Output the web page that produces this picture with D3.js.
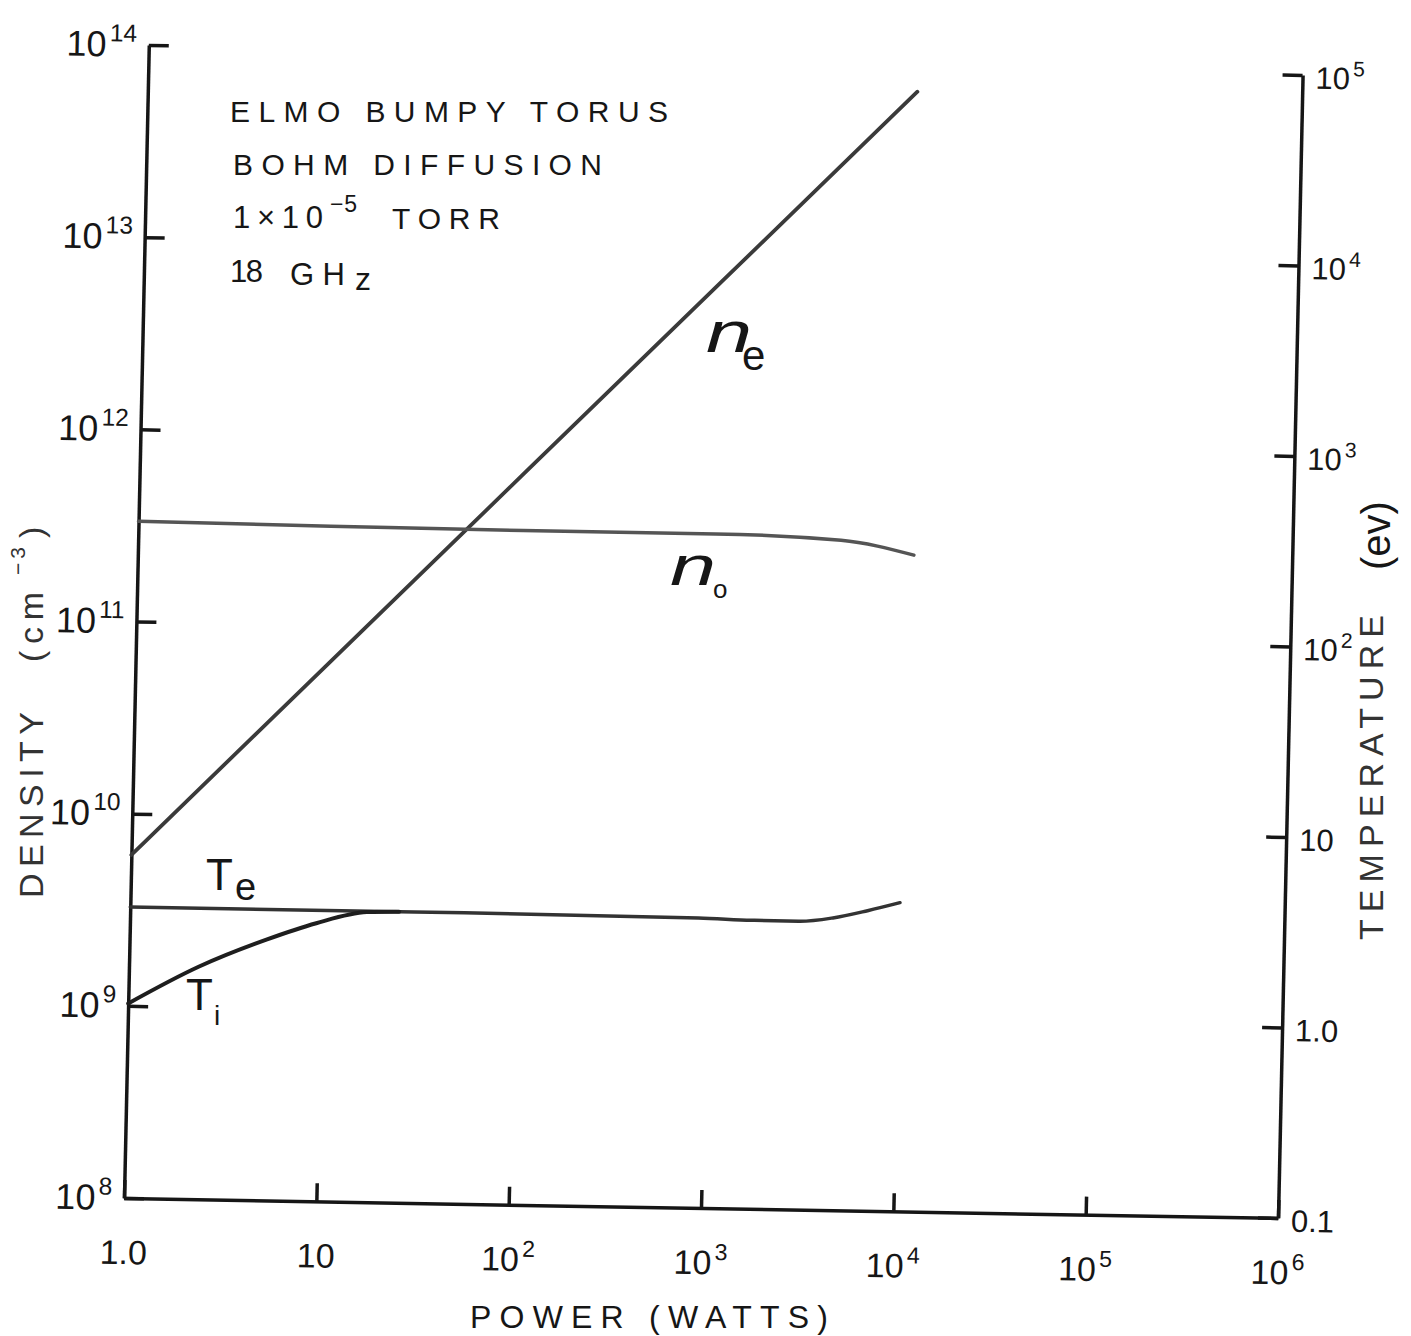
<!DOCTYPE html>
<html>
<head>
<meta charset="utf-8">
<script src="https://cdn.jsdelivr.net/npm/d3@7"></script>
<style>
  body { margin: 0; background: #fff; }
  svg { display: block; background: #fff; }
  text { font-family: "Liberation Sans", "DejaVu Sans", sans-serif; fill: #161616; }
</style>
</head>
<body>
<svg width="1411" height="1336"></svg>
<script>
// ---- tick values / labels ----
var powerTicks = [1, 10, 100, 1e3, 1e4, 1e5, 1e6];
var powerBase  = ["1.0", "10", "10", "10", "10", "10", "10"];
var powerExp   = ["", "", "2", "3", "4", "5", "6"];

var densityTicks = [1e8, 1e9, 1e10, 1e11, 1e12, 1e13, 1e14];
var densityExp   = ["8", "9", "10", "11", "12", "13", "14"];

var tempTicks = [0.1, 1, 10, 100, 1e3, 1e4, 1e5];
var tempBase  = ["0.1", "1.0", "10", "10", "10", "10", "10"];
var tempExp   = ["", "", "", "2", "3", "4", "5"];

// ---- curves ----
var nePower   = [1, 10, 100, 1000, 10000];
var neDensity = [6.1e9, 6.25e10, 6.4e11, 6.55e12, 6.7e13];

var n0Power   = [1, 10, 100, 1000, 4500, 10800];
var n0Density = [3.32e11, 3.26e11, 3.22e11, 3.22e11, 3.06e11, 2.6e11];

var tePower = [1, 30, 900, 1700, 3000, 4500, 6800, 10000];
var teTemp  = [3.37, 3.37, 3.32, 3.27, 3.26, 3.42, 3.76, 4.17];

var tiPower = [1, 2.3, 5.1, 9.3, 17, 25];
var tiTemp  = [1.05, 1.66, 2.33, 2.88, 3.33, 3.37];

var svg = d3.select("svg");

var W = 1154, H = 1153;
var x  = d3.scaleLog().domain([1, 1e6]).range([0, W]);
var yD = d3.scaleLog().domain([1e8, 1e14]).range([H, 0]);
var yT = d3.scaleLog().domain([0.1, 1e5]).range([H, 10]);

// the hand drawn frame leans a little, so the plot sits in a sheared group
var g = svg.append("g").attr("transform", "matrix(1,0.0173,-0.0215,1,148.8,45)");

function styleAxis(sel, size) {
    sel.attr("font-family", null).attr("font-size", null);
    sel.select(".domain").attr("stroke", "#161616").attr("stroke-width", 3.5);
    sel.selectAll(".tick line").attr("stroke", "#161616").attr("stroke-width", 3.5);
    sel.selectAll(".tick text").attr("font-size", size).attr("fill", "#161616");
}

function supText(sel, bases, exps) {
    sel.selectAll(".tick text").each(function (d, i) {
        var t = d3.select(this).text(null);
        t.append("tspan").text(bases[i]);
        if (exps[i]) {
            t.append("tspan").attr("dy", "-0.62em").attr("dx", "3").attr("font-size", "0.68em").text(exps[i]);
        }
    });
}

var leftAxis = g.append("g")
    .call(d3.axisLeft(yD).tickValues(densityTicks).tickSizeInner(-20).tickSizeOuter(0)
        .tickPadding(12).tickFormat(function () { return ""; }));
styleAxis(leftAxis, 36);
supText(leftAxis, densityTicks.map(function () { return "10"; }), densityExp);

var bottomAxis = g.append("g")
    .attr("transform", "translate(0," + H + ")")
    .call(d3.axisBottom(x).tickValues(powerTicks).tickSizeInner(-18).tickSizeOuter(0)
        .tickPadding(42).tickFormat(function () { return ""; }));
styleAxis(bottomAxis, 34);
supText(bottomAxis, powerBase, powerExp);

var rightAxis = g.append("g")
    .attr("transform", "translate(" + W + ",0)")
    .call(d3.axisRight(yT).tickValues(tempTicks).tickSizeInner(-20).tickSizeOuter(0)
        .tickPadding(13).tickFormat(function () { return ""; }));
styleAxis(rightAxis, 31);
supText(rightAxis, tempBase, tempExp);
rightAxis.selectAll(".tick text").attr("dy", "0.42em");

// ---- curves ----
var lineD = d3.line().x(function (d) { return x(d[0]); }).y(function (d) { return yD(d[1]); })
    .curve(d3.curveMonotoneX);
var lineT = d3.line().x(function (d) { return x(d[0]); }).y(function (d) { return yT(d[1]); })
    .curve(d3.curveMonotoneX);

var curves = [
    { pts: d3.zip(nePower, neDensity), gen: lineD, color: "#3a3a3a", w: 3.8 },
    { pts: d3.zip(n0Power, n0Density), gen: lineD, color: "#555", w: 3.5 },
    { pts: d3.zip(tePower, teTemp),    gen: lineT, color: "#333", w: 3.5 },
    { pts: d3.zip(tiPower, tiTemp),    gen: lineT, color: "#1e1e1e", w: 4 }
];

g.append("g").selectAll("path")
    .data(curves).enter()
    .append("path")
        .attr("d", function (d) { return d.gen(d.pts); })
        .attr("fill", "none")
        .attr("stroke", function (d) { return d.color; })
        .attr("stroke-width", function (d) { return d.w; })
        .attr("stroke-linecap", "round")
        .attr("stroke-linejoin", "round");

// ---- lettering ----
function label(px, py, str, size, opts) {
    opts = opts || {};
    var t = svg.append("text")
        .attr("x", px).attr("y", py)
        .attr("font-size", size)
        .text(str);
    if (opts.len) t.attr("textLength", opts.len).attr("lengthAdjust", opts.adjust || "spacing");
    if (opts.style) t.attr("font-style", opts.style);
    if (opts.fill) t.style("fill", opts.fill);
    if (opts.rot) t.attr("x", null).attr("y", null)
        .attr("transform", "translate(" + px + "," + py + ") rotate(" + opts.rot + ")");
    return t;
}

label(230, 122, "ELMO  BUMPY  TORUS", 30, { len: 438 });
label(233, 175, "BOHM  DIFFUSION", 30, { len: 369 });
label(233, 228, "1×10", 31, { len: 90 });
label(330, 212, "−5", 23, { len: 27 });
label(392, 229, "TORR", 30, { len: 108 });
label(230, 282, "18", 31, { len: 33 });
label(290, 285, "GH", 31, { len: 55 });
label(355, 290, "z", 32);

label(706, 352, "n", 58, { style: "italic", len: 46, adjust: "spacingAndGlyphs" });
label(742, 370, "e", 42);
label(670, 585, "n", 56, { style: "italic", len: 46, adjust: "spacingAndGlyphs" });
label(713, 598, "o", 26);
label(206, 890, "T", 44);
label(235, 900, "e", 38);
label(186, 1010, "T", 44);
label(214, 1025, "i", 28);

label(43, 898, "DENSITY", 34, { rot: -90, len: 186, fill: "#333" });
label(43, 662, "(cm", 34, { rot: -90, len: 70, fill: "#333" });
label(25, 575, "−3", 21, { rot: -90, len: 28, fill: "#333" });
label(43, 538, ")", 34, { rot: -90, fill: "#333" });

label(1383, 940, "TEMPERATURE", 34, { rot: -90, len: 325, fill: "#333" });
label(1390, 570, "(ev)", 40, { rot: -90 });

label(470, 1328, "POWER  (WATTS)", 32, { len: 358 });
</script>
</body>
</html>
